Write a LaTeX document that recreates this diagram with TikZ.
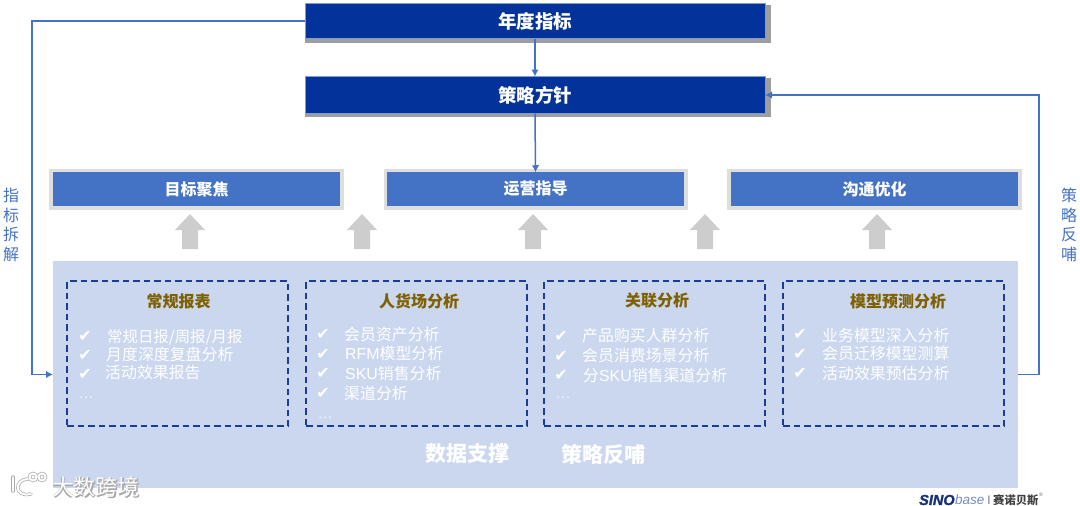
\documentclass[tikz,border=0pt]{standalone}
\usepackage{fontspec}
\setmainfont{Noto Sans CJK SC}
\newfontfamily\latinf{Liberation Sans}
\newfontfamily\sinof[FakeBold=1.5]{Liberation Sans Bold Italic}
\newfontfamily\chk{DejaVu Sans}
\usetikzlibrary{arrows.meta}
\definecolor{navy}{HTML}{03339A}
\definecolor{midblue}{HTML}{4472C4}
\definecolor{panelblue}{HTML}{CAD7EE}
\definecolor{dashblue}{HTML}{1A3C98}
\definecolor{brownhead}{HTML}{7F6000}
\definecolor{framegray}{HTML}{DEDEDE}
\definecolor{arrowgray}{HTML}{CDCDCD}
\definecolor{markgray}{HTML}{A8A8A8}
\definecolor{shadowgray}{HTML}{9E9E9E}
\newcommand{\lowerby}[2]{\raisebox{-#1}{#2}}
\tikzset{
  topbox/.style={rectangle,inner sep=0pt,outer sep=0pt,minimum width=460pt,minimum height=35.5pt,fill=navy,draw=midblue!70,line width=.6pt,text=white,font=\bfseries\fontsize{18.5}{20}\selectfont},
  midbox/.style={rectangle,inner sep=0pt,outer sep=0pt,minimum width=291pt,minimum height=37.5pt,fill=midblue,draw=framegray,line width=3.5pt,text=white,font=\bfseries\fontsize{16}{18}\selectfont},
  panelbox/.style={rectangle,inner sep=0pt,outer sep=0pt,minimum width=965pt,minimum height=227pt,fill=panelblue},
  dashbox/.style={rectangle,inner sep=0pt,outer sep=0pt,minimum width=221pt,minimum height=145pt,draw=dashblue,line width=1.5pt,dash pattern=on 6.5pt off 4pt},
  headtext/.style={text=brownhead,font=\bfseries\fontsize{16}{18}\selectfont,inner sep=0pt},
  itemtext/.style={anchor=west,text=white,font=\fontsize{15.9}{17}\selectfont,inner sep=0pt},
  checkmark/.style={text=white,font=\chk\fontsize{16}{18}\selectfont,inner sep=0pt},
  dotstext/.style={anchor=west,text=white!75!panelblue,font=\fontsize{13}{15}\selectfont,inner sep=0pt},
  bigtext/.style={text=white,font=\bfseries\fontsize{21}{23}\selectfont,inner sep=0pt},
  sidetext/.style={text=midblue,font=\fontsize{16}{19.5}\selectfont,inner sep=0pt,align=center},
  link/.style={draw=midblue,line width=1.5pt,-{Latex[length=7pt,width=7.5pt]}},
  uparrow/.style={fill=arrowgray},
  shadowbox/.style={fill=shadowgray},
  wmshade/.style={draw=markgray,line width=3.4pt,line cap=round,fill=none},
  wmline/.style={draw=white,line width=2pt,line cap=round,fill=none},
}
\begin{document}
\begin{tikzpicture}[x=1pt,y=-1pt]
\useasboundingbox (0,0) rectangle (1080,506);
% top boxes with their shadows
\fill[shadowbox] (305,5) rectangle (771,43);
\fill[shadowbox] (305,78) rectangle (771,117);
\node[topbox] (annual) at (535,21) {\lowerby{2pt}{年度指标}};
\node[topbox,minimum height=37pt] (policy) at (535,95) {\lowerby{1.5pt}{策略方针}};
% middle boxes
\node[midbox] (focus) at (196.5,189) {\lowerby{2pt}{目标聚焦}};
\node[midbox,minimum width=300.5pt] (guide) at (535.5,189) {\lowerby{2pt}{运营指导}};
\node[midbox] (comm) at (874.5,189) {\lowerby{2pt}{沟通优化}};
% gray arrows
\foreach \x in {190,362,533,705,877}
  \fill[uparrow] (\x,214) -- ++(15,16) -- ++(-7,0) -- ++(0,19) -- ++(-16,0) -- ++(0,-19) -- ++(-7,0) -- cycle;
% panel
\node[panelbox] (panel) at (535.5,374.5) {};
\node[dashbox] (d1) at (177.5,353.5) {};
\node[dashbox] (d2) at (416.5,353.5) {};
\node[dashbox] (d3) at (654.5,353.5) {};
\node[dashbox] (d4) at (893.5,353.5) {};
\node[headtext] (h1) at (178.5,301) {常规报表};
\node[headtext] (h2) at (419,301) {人货场分析};
\node[headtext] (h3) at (657,301) {关联分析};
\node[headtext] (h4) at (898,301) {模型预测分析};
% column 1
\node[checkmark] (c11) at (85,336) {✔};
\node[checkmark] (c12) at (85,355) {✔};
\node[checkmark] (c13) at (85,374) {✔};
\node[itemtext,font=\fontsize{15.4}{17}\selectfont] (t11) at (107,337) {常规日报/周报/月报};
\node[itemtext] (t12) at (106,354) {月度深度复盘分析};
\node[itemtext] (t13) at (105,373) {活动效果报告};
\node[dotstext] (t14) at (79,398) {…};
% column 2
\node[checkmark] (c21) at (323,334) {✔};
\node[checkmark] (c22) at (323,354) {✔};
\node[checkmark] (c23) at (323,373) {✔};
\node[checkmark] (c24) at (323,393) {✔};
\node[itemtext] (t21) at (344,335) {会员资产分析};
\node[itemtext] (t22) at (345,353) {{\latinf RFM}模型分析};
\node[itemtext] (t23) at (345,373) {{\latinf SKU}销售分析};
\node[itemtext] (t24) at (344,393) {渠道分析};
\node[dotstext] (t25) at (318,418) {…};
% column 3
\node[checkmark] (c31) at (561,336) {✔};
\node[checkmark] (c32) at (561,356) {✔};
\node[checkmark] (c33) at (561,375) {✔};
\node[itemtext] (t31) at (582,336) {产品购买人群分析};
\node[itemtext] (t32) at (582,355) {会员消费场景分析};
\node[itemtext] (t33) at (583,375) {分{\latinf SKU}销售渠道分析};
\node[dotstext] (t34) at (556,398) {…};
% column 4
\node[checkmark] (c41) at (800,334) {✔};
\node[checkmark] (c42) at (800,354) {✔};
\node[checkmark] (c43) at (800,373) {✔};
\node[itemtext] (t41) at (822,335) {业务模型深入分析};
\node[itemtext] (t42) at (822,353) {会员迁移模型测算};
\node[itemtext] (t43) at (822,373) {活动效果预估分析};
% panel captions
\node[bigtext] (cap1) at (467,454) {数据支撑};
\node[bigtext] (cap2) at (603,454) {策略反哺};
% side labels
\node[sidetext] (sl) at (11,225) {指\\标\\拆\\解};
\node[sidetext] (sr) at (1069,225) {策\\略\\反\\哺};
% connectors
\coordinate (lc) at (32,200);
\coordinate (rc) at (1039,200);
\draw[link] (annual.south) -- (policy.north);
\draw[link,shorten >=-2pt] (policy.south) -- (guide.north);
\draw[link] (annual.west) -| (lc) |- (panel.west);
\draw[link] (panel.east) -| (rc) |- (policy.east);
% watermark
\draw[wmshade] (13,477) -- (13,491);
\draw[wmshade] (28,479) .. controls (14,479) and (14,498) .. (31,494);
\draw[wmshade] (33,477) circle[radius=3.5pt];
\draw[wmshade] (42,477) circle[radius=3.5pt];
\draw[wmline] (13,477) -- (13,491);
\draw[wmline] (28,479) .. controls (14,479) and (14,498) .. (31,494);
\draw[wmline] (33,477) circle[radius=3.5pt];
\draw[wmline] (42,477) circle[radius=3.5pt];
\node[inner sep=0pt,text=markgray,font=\bfseries\fontsize{22}{24}\selectfont] (wms) at (96.7,487.7) {大数跨境};
\node[inner sep=0pt,text=white,font=\fontsize{22}{24}\selectfont] (wm) at (96,487) {大数跨境};
% logo
\node[inner sep=0pt,anchor=west,text=dashblue!80!black,font=\sinof\fontsize{14.5}{16}\selectfont] (sino) at (919,500) {SINO};
\node[inner sep=0pt,anchor=west,text=dashblue!60,font=\latinf\itshape\fontsize{13.5}{15}\selectfont] (base) at (sino.east) {base};
\node[inner sep=0pt,text=dashblue!85!black,font=\latinf\fontsize{9}{10}\selectfont] (bar) at (989,500) {|};
\node[inner sep=0pt,anchor=west,text=black!75,font=\bfseries\fontsize{11.3}{13}\selectfont] (cn) at (993,500) {赛诺贝斯};
\node[inner sep=0pt,text=black!60,font=\latinf\fontsize{5}{6}\selectfont] (reg) at (1041,495) {®};
\end{tikzpicture}
\end{document}
